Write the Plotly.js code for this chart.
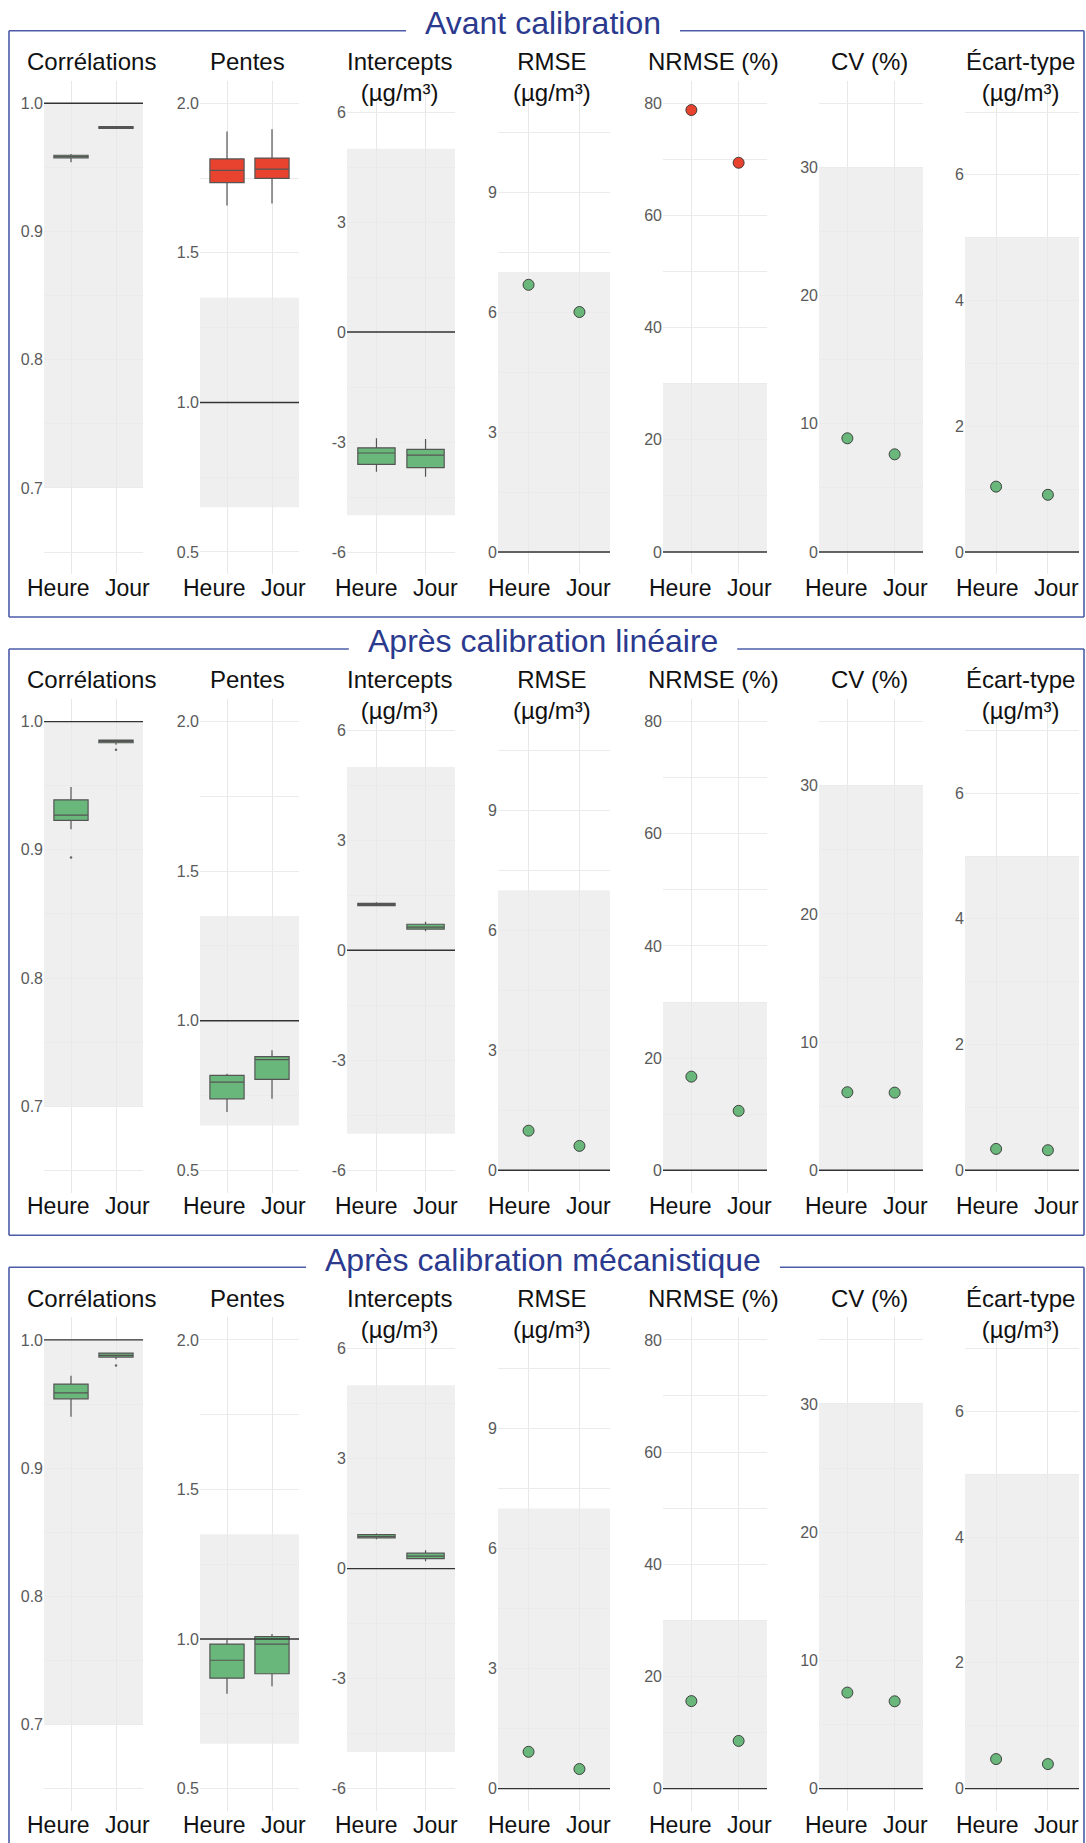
<!DOCTYPE html>
<html><head><meta charset="utf-8">
<script src="https://cdn.plot.ly/plotly-3.0.1.min.js"></script>
<style>html,body{margin:0;padding:0;background:#fff}#chart{width:1086px;height:1843px}</style>
</head><body><div id="chart"></div>
<script>
// ---------------- data ----------------
const stages = ["Avant calibration", "Après calibration linéaire", "Après calibration mécanistique"];
const periods = ["Heure", "Jour"];
const metricTitles = ["Corrélations", "Pentes", "Intercepts<br>(µg/m³)", "RMSE<br>(µg/m³)", "NRMSE (%)", "CV (%)", "Écart-type<br>(µg/m³)"];

// box-plot statistics, [stage][period]
const corrLow  = [[0.954, 0.980], [0.916, 0.982], [0.940, 0.985]];
const corrQ1   = [[0.9575, 0.9805], [0.923, 0.9835], [0.954, 0.9866]];
const corrMed  = [[0.9585, 0.981], [0.927, 0.9845], [0.9587, 0.988]];
const corrQ3   = [[0.9595, 0.9818], [0.939, 0.9855], [0.9655, 0.9897]];
const corrHigh = [[0.9605, 0.9822], [0.949, 0.986], [0.972, 0.990]];
const corrOut  = [[null, null], [0.894, 0.978], [null, 0.980]];

const slopeLow  = [[1.658, 1.665], [0.695, 0.739], [0.817, 0.842]];
const slopeQ1   = [[1.735, 1.749], [0.739, 0.804], [0.869, 0.884]];
const slopeMed  = [[1.776, 1.780], [0.795, 0.870], [0.929, 0.983]];
const slopeQ3   = [[1.814, 1.817], [0.817, 0.880], [0.983, 1.008]];
const slopeHigh = [[1.906, 1.913], [0.823, 0.901], [0.998, 1.017]];

const icptLow  = [[-3.81, -3.95], [1.20, 0.52], [0.80, 0.20]];
const icptQ1   = [[-3.61, -3.70], [1.22, 0.58], [0.84, 0.27]];
const icptMed  = [[-3.30, -3.36], [1.25, 0.63], [0.88, 0.34]];
const icptQ3   = [[-3.16, -3.20], [1.28, 0.71], [0.93, 0.42]];
const icptHigh = [[-2.90, -2.92], [1.31, 0.78], [0.96, 0.50]];

// single-value metrics, [stage][period]
const rmse  = [[6.68, 6.00], [0.99, 0.61], [0.92, 0.49]];
const nrmse = [[78.8, 69.4], [16.7, 10.6], [15.6, 8.5]];
const cvPct = [[8.87, 7.62], [6.09, 6.06], [7.49, 6.81]];
const sdev  = [[1.04, 0.91], [0.34, 0.32], [0.47, 0.39]];

// target zones, reference lines and axis extents per metric
const targetLow  = [0.7, 0.65, -5, 0, 0, 0, 0];
const targetHigh = [1.0, 1.35, 5, 7, 30, 30, 5];
const refLine    = [1, 1, 0, 0, 0, 0, 0];
const axisMin    = [0.65, 0.5, -6, 0, 0, 0, 0];
const axisMax    = [1.0, 2.0, 6, 11, 80, 35, 7];
const tickStep   = [0.1, 0.5, 3, 3, 20, 10, 2];
const tickDec    = [1, 1, 0, 0, 0, 0, 0];

// ---------------- drawing ----------------
const W = 1086, H = 1843;
const FONT = '"Liberation Sans", Arial, Helvetica, sans-serif';
const GREEN = '#6ab77b', RED = '#e8432e';
const colX = [[44, 143], [200, 299], [347, 455], [498, 610], [663, 767], [819, 923], [965, 1079]];
const ROW_DY = 618.3;
const px = v => v / W;
const py = v => 1 - v / H;

const boxSets = [
  [corrLow, corrQ1, corrMed, corrQ3, corrHigh],
  [slopeLow, slopeQ1, slopeMed, slopeQ3, slopeHigh],
  [icptLow, icptQ1, icptMed, icptQ3, icptHigh]
];
const pointSets = [null, null, null, rmse, nrmse, cvPct, sdev];

const traces = [], shapes = [], annotations = [];
const layout = {
  width: W, height: H, margin: {l: 0, r: 0, t: 0, b: 0},
  paper_bgcolor: '#ffffff', plot_bgcolor: 'rgba(0,0,0,0)', showlegend: false,
  font: {family: FONT, color: '#000'}, shapes: shapes, annotations: annotations
};

const measureCtx = document.createElement('canvas').getContext('2d');
measureCtx.font = '32px "Liberation Sans", Arial, sans-serif';

const inZone = (v, c) => v >= targetLow[c] && v <= targetHigh[c];

for (let r = 0; r < 3; r++) {
  const o = r * ROW_DY;
  // section frame + title
  const tw = measureCtx.measureText(stages[r]).width;
  const gl = 543 - tw / 2 - 19, gr = 543 + tw / 2 + 19;
  const top = 30.7 + o, bot = 617 + o, L = 9, R = 1084;
  const frame = {type: 'line', xref: 'paper', yref: 'paper', line: {color: '#4d5ca8', width: 1.6}, layer: 'above'};
  shapes.push(Object.assign({}, frame, {x0: px(L), x1: px(gl), y0: py(top), y1: py(top)}));
  shapes.push(Object.assign({}, frame, {x0: px(gr), x1: px(R), y0: py(top), y1: py(top)}));
  shapes.push(Object.assign({}, frame, {x0: px(L), x1: px(L), y0: py(top), y1: py(bot)}));
  shapes.push(Object.assign({}, frame, {x0: px(R), x1: px(R), y0: py(top), y1: py(bot)}));
  shapes.push(Object.assign({}, frame, {x0: px(L), x1: px(R), y0: py(bot), y1: py(bot)}));
  annotations.push({xref: 'paper', yref: 'paper', x: 0.5, y: py(23 + o), xanchor: 'center', yanchor: 'middle',
    text: stages[r], showarrow: false, font: {size: 32, color: '#2b3a8e', family: FONT}});

  for (let c = 0; c < 7; c++) {
    const n = r * 7 + c + 1;
    const xs = n === 1 ? '' : String(n);
    const xa = 'x' + xs, ya = 'y' + xs;
    const twoLine = metricTitles[c].indexOf('<br>') >= 0;
    const dataTop = (twoLine ? 112 : 103.3) + o, dataBot = 552 + o;
    const pad = 0.05 * (dataBot - dataTop);
    const span = axisMax[c] - axisMin[c];
    const half = tickStep[c] / 2;
    const nT = Math.round(span / half);
    const tv = [], tt = [];
    for (let k = 0; k <= nT; k++) {
      const v = +(axisMin[c] + k * half).toFixed(4);
      tv.push(v);
      const q = v / tickStep[c];
      tt.push(Math.abs(q - Math.round(q)) < 1e-6 ? v.toFixed(tickDec[c]) : '');
    }
    layout['xaxis' + xs] = {
      domain: [px(colX[c][0]), px(colX[c][1])], anchor: ya, type: 'category',
      categoryorder: 'array', categoryarray: periods, range: [-0.6, 1.6],
      showgrid: true, gridcolor: '#e8e8e8', gridwidth: 1, showticklabels: false,
      zeroline: false, showline: false, ticks: '', fixedrange: true
    };
    layout['yaxis' + xs] = {
      domain: [py(dataBot + pad), py(dataTop - pad)], anchor: xa,
      range: [axisMin[c] - 0.05 * span, axisMax[c] + 0.05 * span],
      tickmode: 'array', tickvals: tv, ticktext: tt,
      showgrid: true, gridcolor: '#ebebeb', gridwidth: 1, zeroline: false, showline: false,
      ticks: '', tickfont: {size: 16, color: '#5a5a5a', family: FONT}, fixedrange: true
    };
    // target zone and reference line
    shapes.push({type: 'rect', xref: xa + ' domain', yref: ya, x0: 0, x1: 1,
      y0: targetLow[c], y1: targetHigh[c], fillcolor: '#efefef', line: {width: 0}, layer: 'below'});
    shapes.push({type: 'line', xref: xa + ' domain', yref: ya, x0: 0, x1: 1,
      y0: refLine[c], y1: refLine[c], line: {color: '#333333', width: 1.4}, layer: 'above'});

    if (c < 3) {
      const s = boxSets[c];
      for (let p = 0; p < 2; p++) {
        traces.push({
          type: 'box', xaxis: xa, yaxis: ya, x: [periods[p]],
          lowerfence: [s[0][r][p]], q1: [s[1][r][p]], median: [s[2][r][p]],
          q3: [s[3][r][p]], upperfence: [s[4][r][p]],
          fillcolor: inZone(s[2][r][p], c) ? GREEN : RED,
          line: {color: '#555555', width: 1.2}, whiskerwidth: 0, width: 0.76,
          boxpoints: false, hoverinfo: 'skip'
        });
      }
      if (c === 0) {
        traces.push({type: 'scatter', mode: 'markers', xaxis: xa, yaxis: ya, x: periods, y: corrOut[r],
          marker: {size: 2.5, color: '#666'}, hoverinfo: 'skip'});
      }
    } else {
      const vals = pointSets[c][r];
      traces.push({
        type: 'scatter', mode: 'markers', xaxis: xa, yaxis: ya, x: periods, y: vals,
        marker: {size: 11, color: vals.map(v => inZone(v, c) ? GREEN : RED), line: {color: '#333', width: 0.9}},
        hoverinfo: 'skip'
      });
    }
    // panel title
    const cx = (colX[c][0] + colX[c][1]) / 2;
    annotations.push({xref: 'paper', yref: 'paper', x: px(cx - 2), y: py(46 + o), xanchor: 'center', yanchor: 'top',
      text: metricTitles[c], showarrow: false, align: 'center', font: {size: 24, color: '#111', family: FONT}});
    // category labels
    annotations.push({xref: 'paper', yref: 'paper', x: px(cx), y: py(588 + o), xanchor: 'right', yanchor: 'middle',
      xshift: -1.5, text: periods[0], showarrow: false, font: {size: 23, color: '#111', family: FONT}});
    annotations.push({xref: 'paper', yref: 'paper', x: px(cx), y: py(588 + o), xanchor: 'left', yanchor: 'middle',
      xshift: 9.5, text: periods[1], showarrow: false, font: {size: 23, color: '#111', family: FONT}});
  }
}

Plotly.newPlot('chart', traces, layout, {displayModeBar: false, staticPlot: true});
</script>
</body></html>
